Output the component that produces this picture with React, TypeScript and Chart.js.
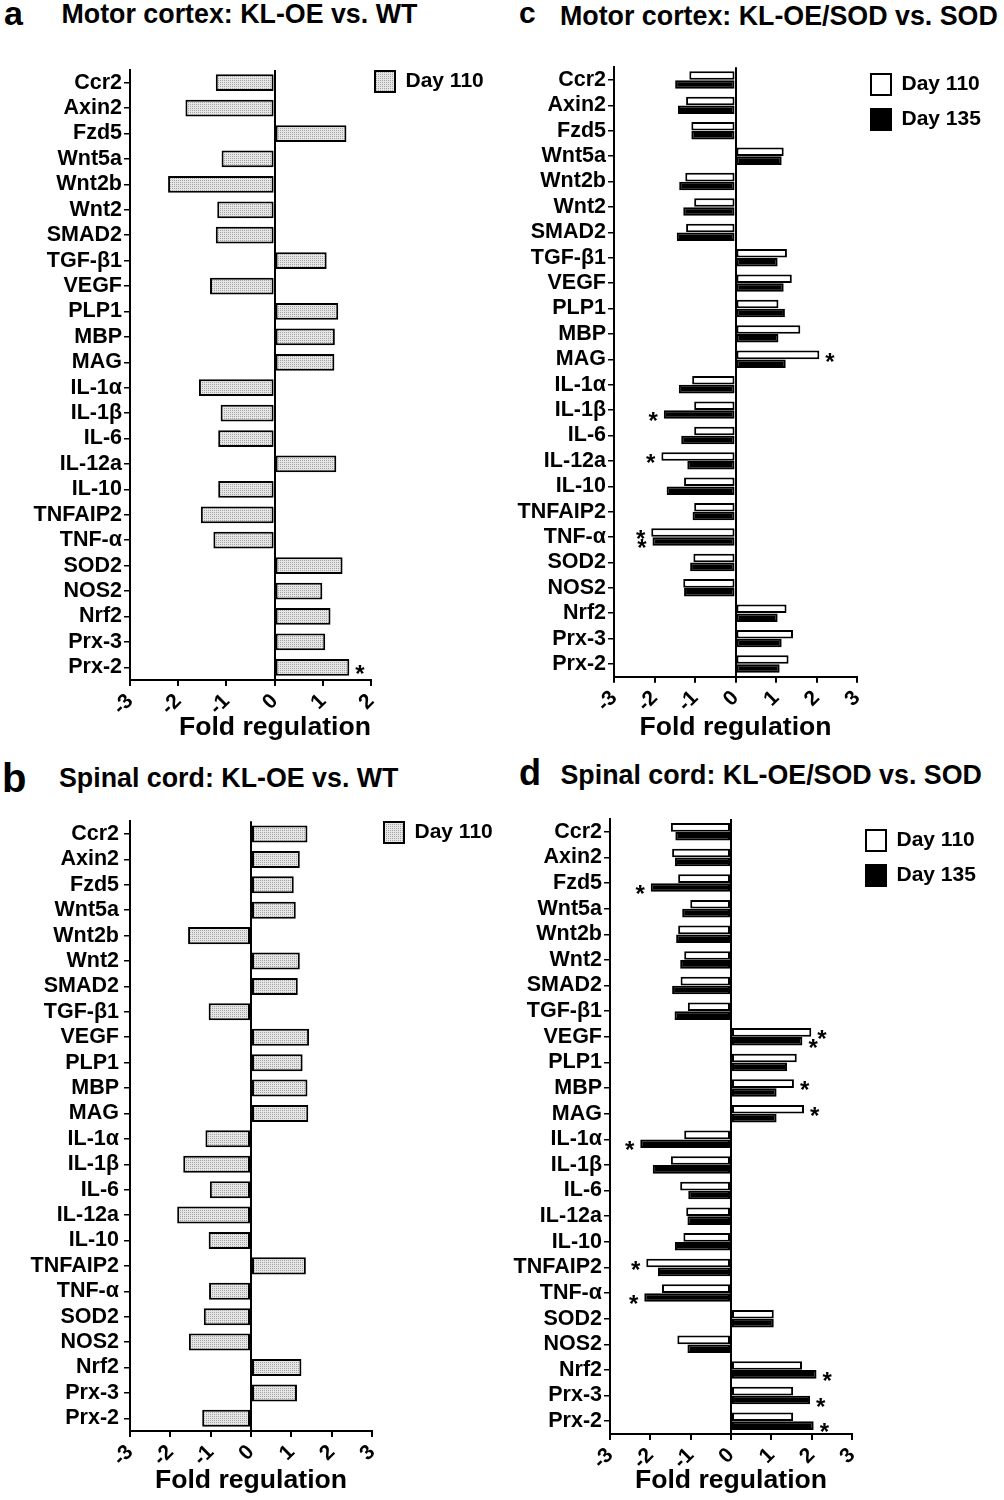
import React, { useEffect, useRef } from "react";
import { Chart, registerables } from "chart.js";

Chart.register(...registerables);

const FONT = '"Liberation Sans", Arial, Helvetica, sans-serif';
Chart.defaults.font.family = FONT;
Chart.defaults.color = "#000";

// ---------- data ----------
const GENES = [
  "Ccr2", "Axin2", "Fzd5", "Wnt5a", "Wnt2b", "Wnt2", "SMAD2", "TGF-β1",
  "VEGF", "PLP1", "MBP", "MAG", "IL-1α", "IL-1β", "IL-6", "IL-12a",
  "IL-10", "TNFAIP2", "TNF-α", "SOD2", "NOS2", "Nrf2", "Prx-3", "Prx-2",
];

const SERIES_LABELS = ["Day 110", "Day 135"];
const X_TITLE = "Fold regulation";

const PANEL_LETTERS = ["a", "b", "c", "d"];
const PANEL_TITLES = [
  "Motor cortex: KL-OE vs. WT",
  "Spinal cord: KL-OE vs. WT",
  "Motor cortex: KL-OE/SOD vs. SOD",
  "Spinal cord: KL-OE/SOD vs. SOD",
];

const X_TICKS_A = [-3, -2, -1, 0, 1, 2];
const X_TICKS = [-3, -2, -1, 0, 1, 2, 3];

// a: Motor cortex, KL-OE vs WT, day 110
const MC_WT_D110 = [
  -1.22, -1.85, 1.49, -1.1, -2.21, -1.19, -1.22, 1.08,
  -1.34, 1.32, 1.25, 1.24, -1.57, -1.12, -1.17, 1.28,
  -1.17, -1.53, -1.27, 1.41, 0.99, 1.16, 1.05, 1.55,
];
// b: Spinal cord, KL-OE vs WT, day 110
const SC_WT_D110 = [
  1.4, 1.21, 1.06, 1.11, -1.56, 1.21, 1.16, -1.05,
  1.44, 1.28, 1.4, 1.42, -1.13, -1.68, -1.02, -1.83,
  -1.05, 1.36, -1.04, -1.17, -1.54, 1.25, 1.14, -1.21,
];
// c: Motor cortex, KL-OE/SOD vs SOD
const MC_SOD_D110 = [
  -1.14, -1.22, -1.09, 1.19, -1.24, -1.02, -1.22, 1.27,
  1.39, 1.06, 1.6, 2.07, -1.07, -1.02, -1.02, -1.83,
  -1.27, -1.02, -2.08, -1.04, -1.29, 1.26, 1.42, 1.31,
];
const MC_SOD_D135 = [
  -1.49, -1.42, -1.09, 1.14, -1.39, -1.29, -1.45, 1.04,
  1.19, 1.22, 1.06, 1.24, -1.4, -1.77, -1.34, -1.19,
  -1.7, -1.06, -2.05, -1.12, -1.27, 1.04, 1.14, 1.09,
];
// d: Spinal cord, KL-OE/SOD vs SOD
const SC_SOD_D110 = [
  -1.49, -1.46, -1.31, -1.01, -1.31, -1.16, -1.25, -1.07,
  1.99, 1.63, 1.56, 1.81, -1.16, -1.49, -1.26, -1.11,
  -1.18, -2.1, -1.71, 1.06, -1.33, 1.76, 1.54, 1.54,
];
const SC_SOD_D135 = [
  -1.38, -1.39, -1.99, -1.21, -1.36, -1.26, -1.46, -1.4,
  1.77, 1.39, 1.13, 1.13, -2.25, -1.94, -1.06, -1.08,
  -1.39, -1.81, -2.15, 1.06, -1.08, 2.12, 1.96, 2.05,
];

// significance markers (*)
const MC_WT_SIG_D110 = ["Prx-2"];
const SC_WT_SIG_D110: string[] = [];
const MC_SOD_SIG_D110 = ["MAG", "IL-12a", "TNF-α"];
const MC_SOD_SIG_D135 = ["IL-1β", "TNF-α"];
const SC_SOD_SIG_D110 = ["VEGF", "MBP", "MAG", "TNFAIP2"];
const SC_SOD_SIG_D135 = ["Fzd5", "VEGF", "IL-1α", "TNF-α", "Nrf2", "Prx-3", "Prx-2"];

// ---------- helpers ----------
function makeStipple(ctx: CanvasRenderingContext2D) {
  const c = document.createElement("canvas");
  c.width = 2;
  c.height = 2;
  const g = c.getContext("2d")!;
  g.fillStyle = "#e6e6e6";
  g.fillRect(0, 0, 2, 2);
  g.fillStyle = "#a4a4a4";
  g.fillRect(0, 0, 1, 1);
  return ctx.createPattern(c, "repeat");
}

const STAR_SIZE = 24;
const starPlugin = {
  id: "stars",
  afterDatasetsDraw(chart: any, _args: any, opts: any) {
    const sets: string[][] = (opts && opts.sets) || [];
    const ctx = chart.ctx;
    ctx.save();
    ctx.font = `bold ${STAR_SIZE}px ${FONT}`;
    ctx.fillStyle = "#000";
    ctx.textBaseline = "alphabetic";
    sets.forEach((names, di) => {
      const meta = chart.getDatasetMeta(di);
      names.forEach((name) => {
        const el: any = meta.data[GENES.indexOf(name)];
        if (!el) return;
        const pos = el.x >= el.base;
        ctx.textAlign = pos ? "left" : "right";
        ctx.fillText("*", el.x + (pos ? 6 : -6), el.y + 1 + 0.57 * STAR_SIZE);
      });
    });
    ctx.restore();
  },
};

// fixes the legend column width and its top so that the plot area is deterministic
const legendBoxPlugin = {
  id: "legendBox",
  beforeLayout(chart: any, _args: any, opts: any) {
    const lg = chart.legend;
    if (lg && !lg.__fixedWidth && opts && typeof opts.width === "number") {
      const orig = lg.fit;
      lg.fit = function () {
        orig.call(this);
        this.width = opts.width;
      };
      lg.__fixedWidth = true;
    }
  },
  afterLayout(chart: any, _args: any, opts: any) {
    const lg = chart.legend;
    if (lg && opts && typeof opts.top === "number") {
      lg.top = opts.top;
    }
  },
};

type Series = { label: string; data: number[]; sig: string[]; fill: string };
type Spec = {
  left: number; top: number; width: number; height: number;
  padding: { top: number; right: number; bottom: number; left: number };
  yWidth: number; xHeight: number; xTicks: number[];
  series: Series[]; barPct: number; catPct: number;
  legendPad: number; legendTop: number; legendWidth: number; tickPad: number;
  titleAlign: "center" | "end";
};

const SPECS: Spec[] = [
  {
    left: 0, top: 40, width: 500, height: 706,
    padding: { top: 30, right: 0, bottom: 0, left: 0 },
    yWidth: 130, xHeight: 66, xTicks: X_TICKS_A,
    series: [{ label: SERIES_LABELS[0], data: MC_WT_D110, sig: MC_WT_SIG_D110, fill: "stipple" }],
    barPct: 0.66, catPct: 1, legendPad: 4, legendTop: 27, legendWidth: 129, tickPad: 2, titleAlign: "end",
  },
  {
    left: 0, top: 800, width: 500, height: 699,
    padding: { top: 21.3, right: 0, bottom: 0, left: 0 },
    yWidth: 130, xHeight: 68, xTicks: X_TICKS,
    series: [{ label: SERIES_LABELS[0], data: SC_WT_D110, sig: SC_WT_SIG_D110, fill: "stipple" }],
    barPct: 0.67, catPct: 1, legendPad: 12, legendTop: 10, legendWidth: 128, tickPad: 5, titleAlign: "center",
  },
  {
    left: 500, top: 40, width: 504, height: 706,
    padding: { top: 27.3, right: 0, bottom: 0, left: 0 },
    yWidth: 114, xHeight: 69.3, xTicks: X_TICKS,
    series: [
      { label: SERIES_LABELS[0], data: MC_SOD_D110, sig: MC_SOD_SIG_D110, fill: "#ffffff" },
      { label: SERIES_LABELS[1], data: MC_SOD_D135, sig: MC_SOD_SIG_D135, fill: "#000000" },
    ],
    barPct: 0.96, catPct: 0.7, legendPad: 14, legendTop: 20, legendWidth: 147, tickPad: 2, titleAlign: "center",
  },
  {
    left: 500, top: 800, width: 504, height: 699,
    padding: { top: 19, right: 0, bottom: 0, left: 0 },
    yWidth: 110, xHeight: 65, xTicks: X_TICKS,
    series: [
      { label: SERIES_LABELS[0], data: SC_SOD_D110, sig: SC_SOD_SIG_D110, fill: "#ffffff" },
      { label: SERIES_LABELS[1], data: SC_SOD_D135, sig: SC_SOD_SIG_D135, fill: "#000000" },
    ],
    barPct: 0.96, catPct: 0.7, legendPad: 14, legendTop: 16, legendWidth: 152, tickPad: 2, titleAlign: "center",
  },
];

function Panel({ spec }: { spec: Spec }) {
  const ref = useRef<HTMLCanvasElement>(null);
  useEffect(() => {
    const canvas = ref.current!;
    const ctx = canvas.getContext("2d")!;
    const stipple = makeStipple(ctx);
    const datasets = spec.series.map((s) => ({
      label: s.label,
      data: s.data,
      backgroundColor: s.fill === "stipple" ? stipple : s.fill,
      borderColor: "#000",
      borderWidth: 2,
      borderSkipped: false,
      barPercentage: spec.barPct,
      categoryPercentage: spec.catPct,
    }));
    const ticks = spec.xTicks;
    const chart = new Chart(canvas, {
      type: "bar",
      data: { labels: GENES, datasets: datasets as any },
      options: {
        indexAxis: "y",
        responsive: false,
        animation: false,
        devicePixelRatio: 1,
        layout: { padding: spec.padding },
        scales: {
          x: {
            type: "linear",
            min: ticks[0],
            max: ticks[ticks.length - 1],
            afterBuildTicks: (s: any) => {
              s.ticks = ticks.map((v) => ({ value: v }));
            },
            afterFit: (s: any) => {
              s.height = spec.xHeight;
            },
            ticks: {
              font: { size: 21, weight: "bold" },
              color: "#000",
              minRotation: 45,
              maxRotation: 45,
              padding: 3,
              callback: (v: any) => String(v),
            },
            grid: {
              drawOnChartArea: true,
              color: (c: any) => (c.tick && c.tick.value === 0 ? "#000" : "rgba(0,0,0,0)"),
              lineWidth: 2,
              tickColor: "#000",
              tickLength: 6,
              tickWidth: 2,
            },
            border: { display: true, color: "#000", width: 2 },
            title: {
              display: true,
              text: X_TITLE,
              font: { size: 26.6, weight: "bold" },
              color: "#000",
              align: spec.titleAlign,
              padding: { top: 4, bottom: 2 },
            },
          },
          y: {
            type: "category",
            offset: true,
            afterFit: (s: any) => {
              s.width = spec.yWidth;
            },
            ticks: {
              autoSkip: false,
              font: { size: 21.5, weight: "bold", lineHeight: 1 },
              color: "#000",
              padding: spec.tickPad,
            },
            grid: {
              drawOnChartArea: false,
              offset: false,
              color: "#000",
              lineWidth: 1.5,
              tickLength: 6,
            },
            border: { display: true, color: "#000", width: 2 },
          },
        } as any,
        plugins: {
          legend: {
            display: true,
            position: "right",
            align: "start",
            labels: {
              boxWidth: 20,
              boxHeight: 21,
              padding: spec.legendPad,
              color: "#000",
              font: { size: 21, weight: "bold" },
            },
          },
          tooltip: { enabled: false },
          stars: { sets: spec.series.map((s) => s.sig) },
          legendBox: { top: spec.legendTop, width: spec.legendWidth },
        } as any,
      },
      plugins: [starPlugin as any, legendBoxPlugin as any],
    });
    return () => chart.destroy();
  }, [spec]);
  return (
    <canvas
      ref={ref}
      width={spec.width}
      height={spec.height}
      style={{ position: "absolute", left: spec.left, top: spec.top, display: "block" }}
    />
  );
}

// heading placement
const HEADINGS = [
  { lx: 4, ly: -3.8, ls: 34, tx: 61.5, ty: 0.6 },
  { lx: 2, ly: 757.8, ls: 40, tx: 59, ty: 764.8 },
  { lx: 519, ly: -2.4, ls: 30, tx: 560, ty: 3.3 },
  { lx: 519, ly: 755.2, ls: 36, tx: 560.5, ty: 762.3 },
];
const TITLE_SIZE = 26.8;

export default function App() {
  return (
    <div
      style={{
        position: "absolute",
        left: 0,
        top: 0,
        width: 1004,
        height: 1500,
        background: "#fff",
        fontFamily: FONT,
        color: "#000",
        overflow: "hidden",
      }}
    >
      {HEADINGS.map((h, i) => (
        <React.Fragment key={i}>
          <div
            style={{
              position: "absolute",
              left: h.lx,
              top: h.ly,
              fontSize: h.ls,
              lineHeight: 1,
              fontWeight: "bold",
              whiteSpace: "nowrap",
            }}
          >
            {PANEL_LETTERS[i]}
          </div>
          <div
            style={{
              position: "absolute",
              left: h.tx,
              top: h.ty,
              fontSize: TITLE_SIZE,
              lineHeight: 1,
              fontWeight: "bold",
              whiteSpace: "nowrap",
            }}
          >
            {PANEL_TITLES[i]}
          </div>
        </React.Fragment>
      ))}
      {SPECS.map((s, i) => (
        <Panel key={i} spec={s} />
      ))}
    </div>
  );
}
